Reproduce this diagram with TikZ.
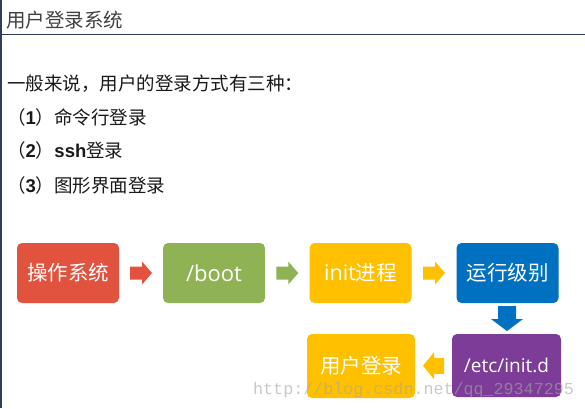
\documentclass[tikz,border=0pt]{standalone}
\usepackage{fontspec}
\setmainfont{Noto Sans CJK SC}
\newfontfamily\latf{Open Sans}
\newfontfamily\arl{Liberation Sans}
\newfontfamily\monof{Liberation Mono}
\usetikzlibrary{calc}
\definecolor{navy}{HTML}{2E3D5C}
\definecolor{bred}{HTML}{E1533F}
\definecolor{bgreen}{HTML}{8FB254}
\definecolor{borange}{HTML}{FFC000}
\definecolor{bblue}{HTML}{0070C0}
\definecolor{bpurple}{HTML}{7D3C98}
\definecolor{titlegray}{HTML}{404040}
\tikzset{
  box/.style={rounded corners=5pt, minimum width=102pt, minimum height=60pt,
    text=white, inner sep=0pt, font=\fontsize{20.5}{20.5}\selectfont},
  line/.style={anchor=base west, inner sep=0pt, text=black!90,
    font=\fontsize{18.5}{18.5}\selectfont},
  pics/barrow/.style n args={5}{code={
    \fill[#5] (-#1/2,-#3/2) -- (#1/2-#4,-#3/2) -- (#1/2-#4,-#2/2) -- (#1/2,0)
      -- (#1/2-#4,#2/2) -- (#1/2-#4,#3/2) -- (-#1/2,#3/2) -- cycle;}}
}
\begin{document}
\begin{tikzpicture}[x=1pt,y=-1pt]
\useasboundingbox (0,0) rectangle (585,408);
\fill[white] (0,0) rectangle (585,408);
\draw[navy, line width=2pt] (1,0) -- (1,408);
\draw[navy, line width=1pt] (0,34.5) -- (585,34.5);
\node[anchor=base west, inner sep=0pt, text=titlegray, font=\fontsize{19.5}{19.5}\selectfont] (title) at (6,27) {用户登录系统};
\node[line] (l1) at (7,90) {一般来说，用户的登录方式有三种：};
\node[line] (l2) at (7,124) {（{\arl\bfseries 1}）命令行登录};
\node[line] (l3) at (7,157) {（{\arl\bfseries 2}）{\arl\bfseries ssh}登录};
\node[line] (l4) at (7,192) {（{\arl\bfseries 3}）图形界面登录};

\node[box, fill=bred] (A) at (68,273) {操作系统};
\node[box, fill=bgreen] (B) at (214,273) {{\latf\fontsize{22}{22}\selectfont /boot}};
\node[box, fill=borange] (C) at (360.5,273) {{\latf\fontsize{21.5}{21.5}\selectfont init}进程};
\node[box, fill=bblue] (D) at (507.5,273) {运行级别};
\node[box, fill=bpurple, minimum width=109pt, minimum height=63pt, font=\fontsize{19}{19}\selectfont] (E) at (506.5,365.5) {{\latf /etc/init.d}};
\node[box, fill=borange, minimum width=108pt, minimum height=64pt] (F) at (361,366) {用户登录};

\pic at ($(A.east)!0.5!(B.west)$) {barrow={22}{23}{13}{10}{bred}};
\pic at ($(B.east)!0.5!(C.west)$) {barrow={22}{23}{13}{10}{bgreen}};
\pic at ($(C.east)!0.5!(D.west)$) {barrow={22}{23}{13}{10}{borange}};
\pic[rotate=-90] at ($(D.south)!0.5!(E.north)$) {barrow={25}{32}{18}{12}{bblue}};
\pic[rotate=180] at ($(E.west)!0.5!(F.east)$) {barrow={21}{27}{16}{11}{borange}};

\node[anchor=base west, inner sep=0pt, text=black!35, opacity=0.6, font=\monof\fontsize{16.7}{16.7}\selectfont] (wm) at (253,394) {http://blog.csdn.net/qq\_29347295};
\end{tikzpicture}
\end{document}
